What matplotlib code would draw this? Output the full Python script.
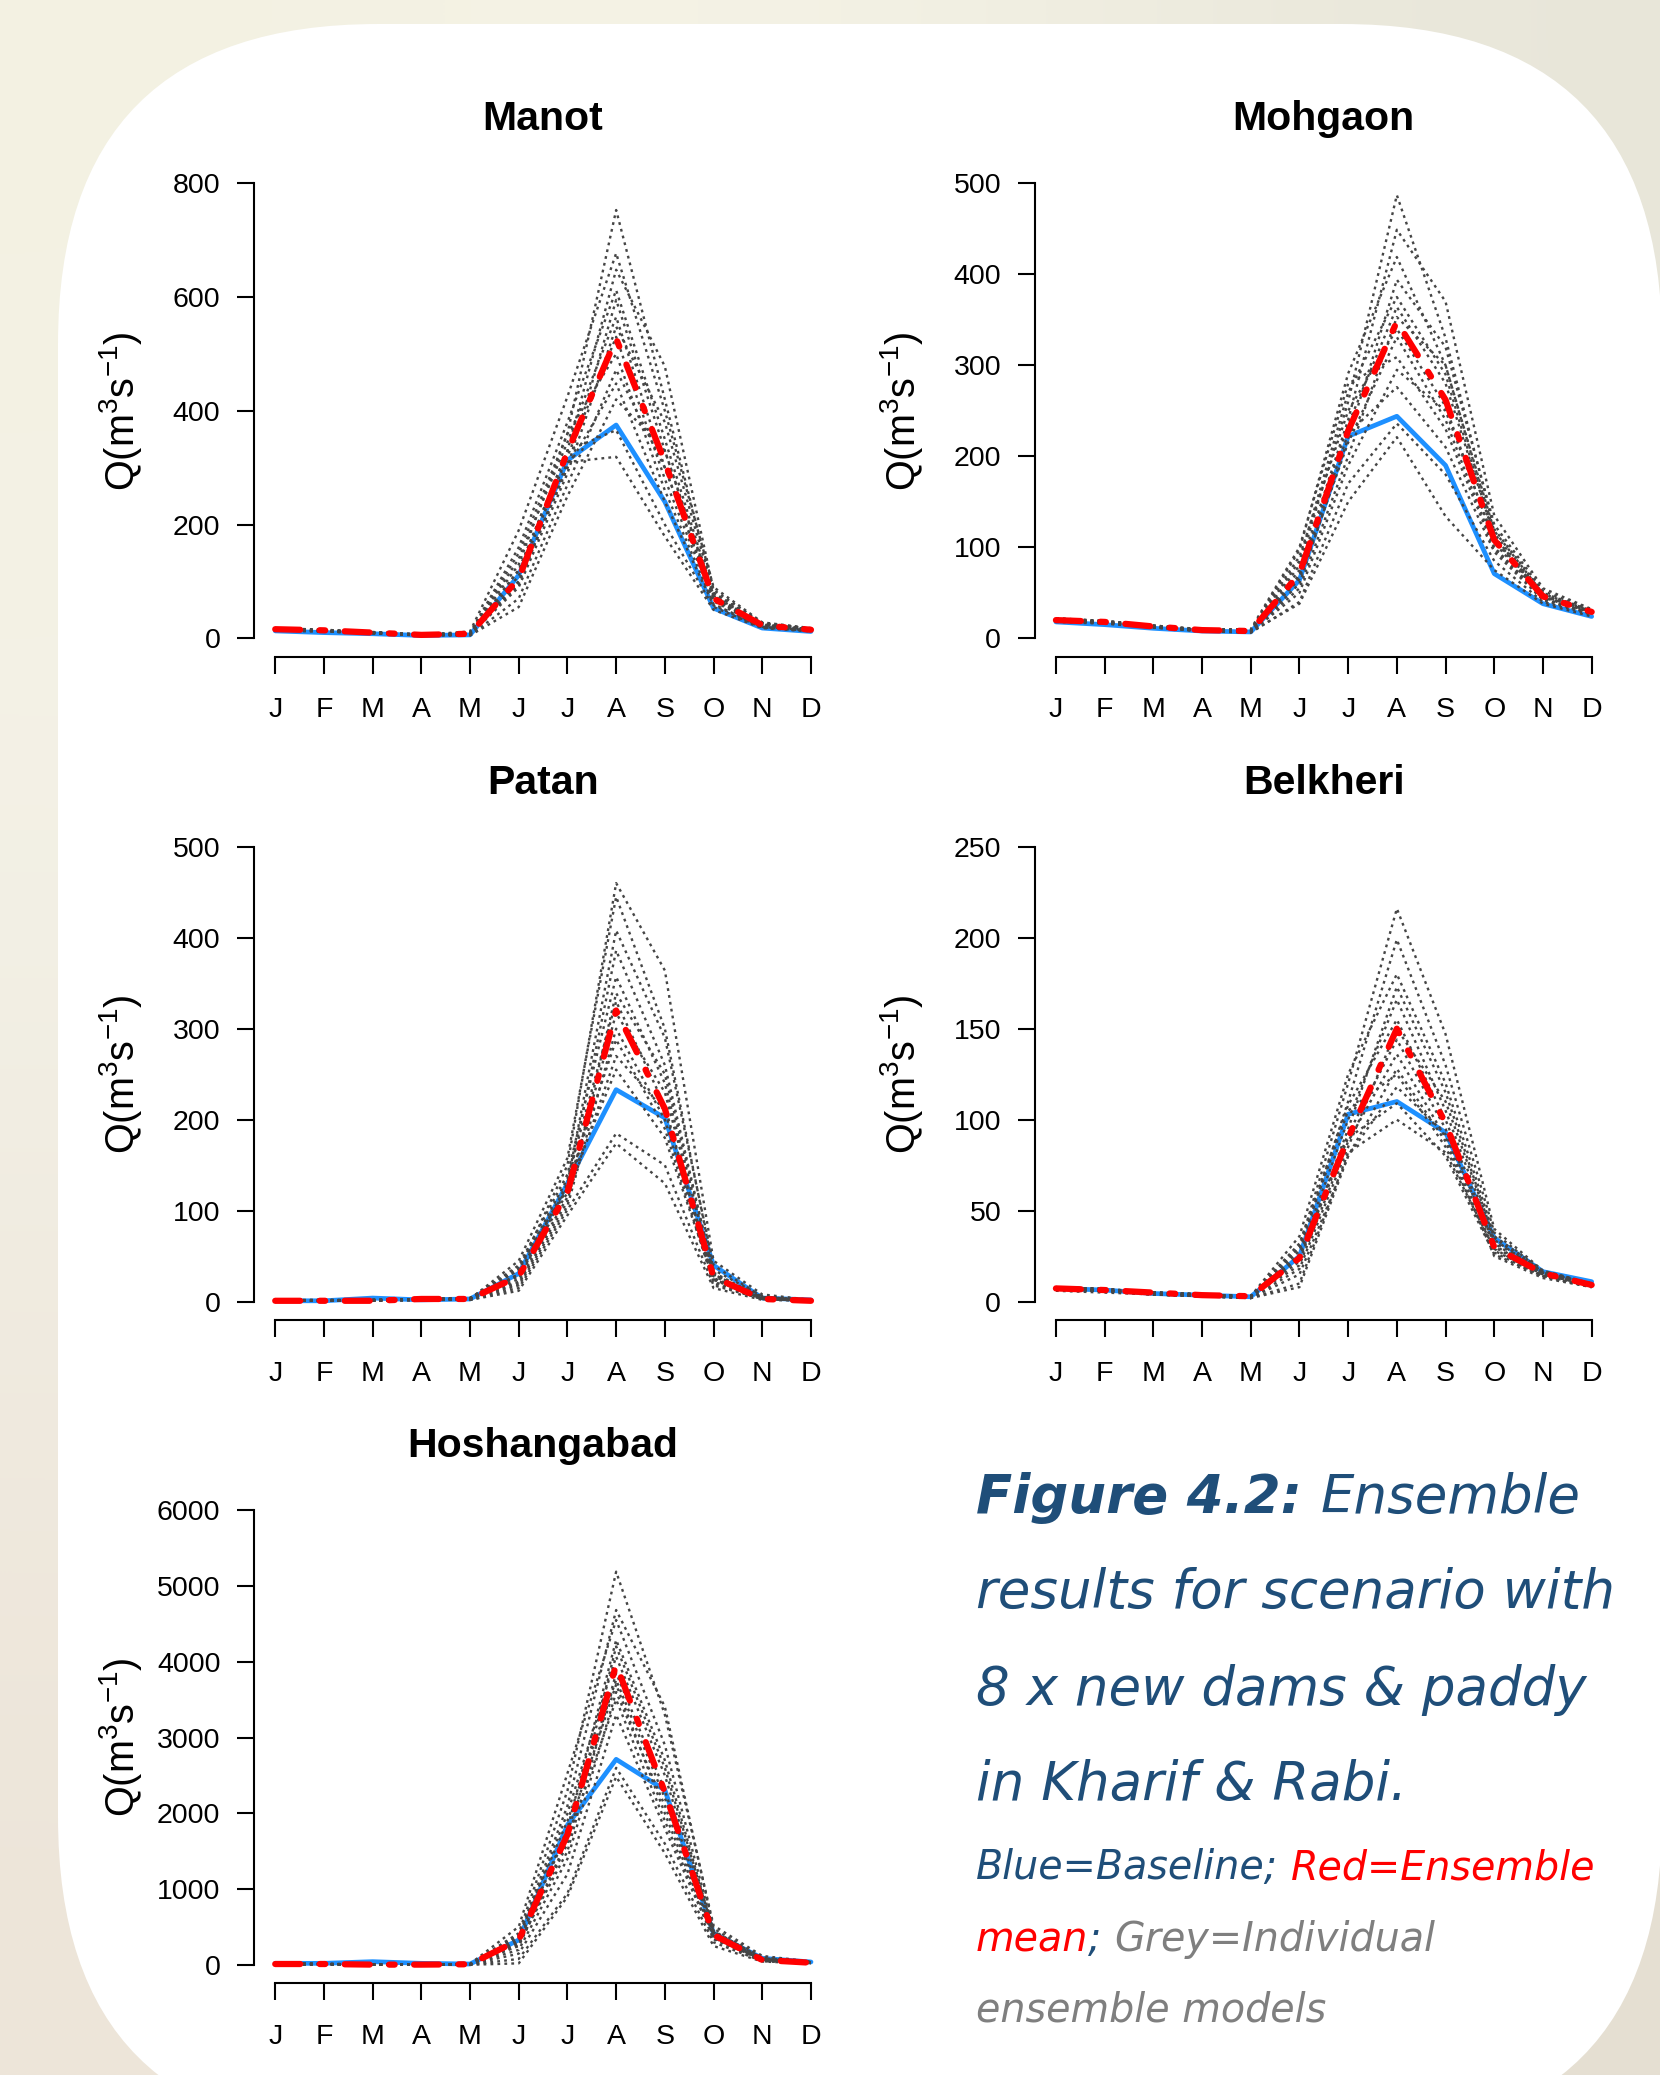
import matplotlib
matplotlib.use("Agg")
import numpy as np
import matplotlib.pyplot as plt
from matplotlib.patches import FancyBboxPatch
from matplotlib.colors import to_rgb

plt.rcParams.update({
    "font.family": ["Liberation Sans", "DejaVu Sans"],
    "mathtext.fontset": "custom",
    "mathtext.rm": "Liberation Sans",
    "mathtext.it": "Liberation Sans:italic",
    "mathtext.bf": "Liberation Sans:bold",
    "mathtext.default": "rm",
    "lines.scale_dashes": False,
    "axes.linewidth": 1.5,
})

W, H = 1660, 2075

MONTHS = ["J", "F", "M", "A", "M", "J", "J", "A", "S", "O", "N", "D"]
STATIONS = ["Manot", "Mohgaon", "Patan", "Belkheri", "Hoshangabad"]
Y_MAX = [800, 500, 500, 250, 6000]
Y_STEP = [200, 100, 100, 50, 1000]

# --- Manot -------------------------------------------------------------
MANOT_BASE = [13, 10, 8, 5, 6, 111, 313, 375, 240, 53, 18, 12]
MANOT_MEAN = [16, 14, 10, 6, 8, 105, 328, 527, 310, 70, 23, 15]
MANOT_MODELS = [
    [18, 15, 11, 7, 10, 130, 360, 753, 420, 80, 25, 17],
    [15, 13, 10, 6, 12, 190, 425, 677, 400, 90, 28, 18],
    [17, 14, 10, 6, 8, 120, 330, 648, 478, 85, 27, 17],
    [16, 13, 9, 6, 9, 160, 380, 612, 350, 75, 24, 16],
    [14, 12, 9, 5, 7, 100, 300, 595, 330, 70, 22, 15],
    [16, 14, 10, 6, 8, 140, 345, 565, 300, 68, 23, 15],
    [17, 15, 11, 7, 6, 90, 290, 548, 380, 80, 25, 16],
    [15, 13, 9, 6, 8, 110, 320, 530, 280, 65, 21, 14],
    [16, 14, 10, 6, 9, 150, 360, 500, 260, 60, 20, 14],
    [14, 12, 9, 5, 5, 70, 270, 472, 300, 72, 22, 15],
    [15, 13, 9, 6, 7, 100, 300, 448, 240, 58, 19, 13],
    [16, 14, 10, 6, 5, 55, 250, 420, 330, 75, 24, 16],
    [15, 13, 10, 6, 8, 120, 330, 366, 200, 55, 19, 13],
    [14, 12, 9, 5, 7, 95, 310, 319, 179, 50, 18, 12],
]

# --- Mohgaon -----------------------------------------------------------
MOHGAON_BASE = [18, 15, 11, 8, 7, 64, 222, 244, 190, 71, 38, 24]
MOHGAON_MEAN = [20, 18, 13, 9, 8, 71, 228, 348, 262, 108, 46, 29]
MOHGAON_MODELS = [
    [21, 19, 14, 9, 9, 80, 260, 487, 330, 120, 50, 30],
    [20, 18, 13, 9, 8, 75, 240, 449, 370, 135, 55, 32],
    [22, 19, 14, 10, 9, 97, 291, 419, 300, 115, 48, 30],
    [19, 17, 12, 8, 7, 60, 220, 394, 320, 125, 52, 31],
    [21, 18, 13, 9, 8, 85, 270, 375, 290, 110, 47, 29],
    [20, 18, 13, 9, 8, 70, 235, 364, 280, 112, 46, 29],
    [19, 17, 12, 8, 7, 55, 200, 353, 300, 118, 49, 30],
    [21, 18, 13, 9, 9, 90, 250, 340, 255, 105, 45, 28],
    [20, 17, 13, 9, 8, 65, 215, 331, 240, 100, 44, 28],
    [22, 19, 14, 10, 10, 100, 280, 309, 230, 98, 43, 27],
    [19, 17, 12, 8, 7, 50, 190, 295, 250, 108, 46, 29],
    [20, 18, 13, 9, 8, 68, 225, 276, 210, 95, 42, 27],
    [18, 16, 12, 8, 6, 40, 170, 236, 180, 85, 40, 26],
    [19, 17, 12, 8, 7, 38, 150, 221, 134, 75, 38, 24],
]

# --- Patan -------------------------------------------------------------
PATAN_BASE = [1, 1, 4, 2, 3, 31, 130, 233, 202, 40, 4, 2]
PATAN_MEAN = [1, 1, 1, 3, 3, 28, 120, 320, 212, 27, 3, 1]
PATAN_MODELS = [
    [1, 2, 2, 3, 4, 35, 150, 460, 364, 45, 8, 2],
    [2, 1, 1, 3, 3, 45, 158, 445, 300, 35, 6, 2],
    [1, 1, 2, 2, 4, 30, 130, 408, 290, 40, 5, 1],
    [1, 2, 1, 3, 2, 25, 125, 386, 260, 30, 4, 1],
    [2, 1, 1, 2, 3, 40, 140, 357, 240, 28, 5, 2],
    [1, 1, 2, 3, 3, 20, 110, 339, 250, 32, 4, 1],
    [1, 1, 1, 3, 4, 35, 135, 330, 215, 25, 3, 1],
    [2, 2, 1, 2, 3, 28, 120, 317, 230, 30, 5, 2],
    [1, 1, 2, 3, 2, 18, 105, 300, 200, 22, 3, 1],
    [1, 1, 1, 2, 3, 30, 128, 288, 190, 20, 3, 1],
    [2, 1, 1, 3, 3, 22, 115, 270, 210, 26, 4, 1],
    [1, 1, 2, 2, 4, 38, 125, 255, 180, 24, 3, 1],
    [1, 1, 1, 3, 2, 15, 101, 185, 150, 18, 3, 1],
    [1, 1, 1, 2, 2, 12, 95, 174, 130, 15, 2, 1],
]

# --- Belkheri ----------------------------------------------------------
BELKHERI_BASE = [7.3, 6.4, 4.5, 3.6, 2.7, 25, 103, 110, 93, 35, 16.5, 11]
BELKHERI_MEAN = [7.3, 6.4, 5, 3.6, 3, 24, 90, 150, 98, 30, 15.6, 9.2]
BELKHERI_MODELS = [
    [8, 7, 5, 4, 3, 30, 120, 216, 147, 40, 17, 10],
    [7, 6, 5, 4, 3, 28, 110, 199, 130, 38, 16, 10],
    [8, 7, 5, 4, 3, 36, 125, 180, 120, 36, 17, 10],
    [7, 6, 4, 3, 3, 22, 95, 173, 115, 34, 16, 9],
    [7, 6, 5, 4, 3, 26, 100, 166, 105, 33, 16, 9],
    [8, 7, 5, 4, 3, 32, 108, 155, 100, 31, 15, 9],
    [7, 6, 4, 3, 2, 18, 85, 150, 110, 35, 16, 10],
    [7, 6, 5, 4, 3, 25, 92, 144, 95, 30, 15, 9],
    [7, 6, 4, 3, 3, 20, 88, 136, 90, 28, 15, 9],
    [8, 7, 5, 4, 3, 30, 105, 125, 85, 27, 14, 9],
    [7, 6, 4, 3, 2, 15, 80, 118, 92, 32, 15, 9],
    [7, 6, 5, 3, 3, 24, 90, 109, 80, 26, 14, 8],
    [7, 6, 4, 3, 2, 10, 82, 100, 82, 29, 14, 8],
    [6, 5, 4, 3, 2, 8, 80, 128, 88, 25, 13, 8],
]

# --- Hoshangabad -------------------------------------------------------
HOSH_BASE = [22, 22, 44, 22, 13, 330, 1846, 2712, 2308, 418, 88, 40]
HOSH_MEAN = [13, 13, 5, 5, 10, 330, 1720, 3960, 2280, 396, 66, 30]
HOSH_MODELS = [
    [15, 14, 8, 6, 12, 420, 2300, 5187, 3300, 520, 120, 45],
    [14, 13, 6, 5, 10, 380, 2100, 4681, 3406, 480, 100, 40],
    [16, 15, 8, 6, 15, 505, 2528, 4549, 2900, 450, 90, 38],
    [13, 12, 5, 4, 8, 300, 1800, 4286, 2700, 430, 80, 35],
    [14, 13, 6, 5, 10, 350, 2000, 4066, 2500, 410, 75, 32],
    [12, 12, 5, 4, 7, 250, 1600, 4200, 2600, 440, 85, 34],
    [15, 14, 7, 6, 12, 400, 1900, 3758, 2200, 380, 70, 30],
    [13, 12, 5, 4, 9, 280, 1500, 3850, 2300, 400, 65, 30],
    [14, 13, 6, 5, 10, 320, 1750, 3700, 2000, 360, 60, 28],
    [12, 11, 4, 4, 6, 200, 1400, 3600, 2100, 390, 68, 29],
    [13, 12, 5, 4, 8, 260, 1650, 3500, 1900, 340, 55, 26],
    [12, 11, 4, 3, 5, 150, 1200, 3300, 1800, 350, 58, 27],
    [11, 10, 3, 3, 4, 80, 945, 2600, 1600, 300, 50, 25],
    [11, 10, 3, 3, 3, 22, 900, 2483, 1473, 250, 45, 22],
]

BASELINES = [MANOT_BASE, MOHGAON_BASE, PATAN_BASE, BELKHERI_BASE, HOSH_BASE]
MEANS = [MANOT_MEAN, MOHGAON_MEAN, PATAN_MEAN, BELKHERI_MEAN, HOSH_MEAN]
MODELS = [MANOT_MODELS, MOHGAON_MODELS, PATAN_MODELS, BELKHERI_MODELS, HOSH_MODELS]

BLUE = "#1E90FF"
RED = "#FF0000"
GREY = "#454545"
CAP_BLUE = "#1F4E79"
CAP_GREY = "#7F7F7F"

# panel geometry in figure pixels
COL_X0 = [253.8, 1034.5]
PLOT_W = 578.6
ROW_TOP_TICK = [183.3, 846.7, 1510.0]
DATA_H = 455.0


def px_axes(fig, x0, y0, w, h):
    return fig.add_axes([x0 / W, 1 - (y0 + h) / H, w / W, h / H])


fig = plt.figure(figsize=(W / 100, H / 100), dpi=100)

# background: soft blurred photo look + white rounded card
bg = fig.add_axes([0, 0, 1, 1], zorder=-10)
bg_grid = np.array([
    [to_rgb("#F3F1E2"), to_rgb("#F6F4E7"), to_rgb("#E8E6D9")],
    [to_rgb("#F4F2E7"), to_rgb("#F4F2E8"), to_rgb("#EAE7DC")],
    [to_rgb("#F0EBE0"), to_rgb("#F0ECE2"), to_rgb("#E9E4D8")],
    [to_rgb("#EDE5D9"), to_rgb("#EDE6DA"), to_rgb("#E5DFD2")],
])
bg.imshow(bg_grid, extent=(0, W, H, 0), interpolation="bicubic", aspect="auto")
bg.add_patch(FancyBboxPatch((58, 24), 1604, 2113,
                            boxstyle="round,pad=0,rounding_size=320",
                            facecolor="white", edgecolor="none"))
bg.set_xlim(0, W)
bg.set_ylim(H, 0)
bg.axis("off")

x = np.arange(1, 13)
pad_frac = 0.04

for i, name in enumerate(STATIONS):
    row, col = divmod(i, 2)
    ymax = Y_MAX[i]
    top = ROW_TOP_TICK[row] - pad_frac * DATA_H
    ax = px_axes(fig, COL_X0[col], top, PLOT_W, DATA_H * (1 + 2 * pad_frac))

    ax.plot(x, BASELINES[i], color=BLUE, lw=3.4, solid_capstyle="round", zorder=2)
    for model in MODELS[i]:
        ax.plot(x, model, color=GREY, lw=1.7, linestyle=(0, (2.0, 3.0)), zorder=3)
    ax.plot(x, MEANS[i], color=RED, lw=4.5, linestyle=(0, (18, 14, 4, 14)),
            dash_capstyle="round", zorder=4)

    ax.set_xlim(1 - 11 * pad_frac, 12 + 11 * pad_frac)
    ax.set_ylim(-pad_frac * ymax, ymax * (1 + pad_frac))
    ax.set_xticks(x)
    ax.set_xticklabels(MONTHS)
    ax.set_yticks(np.arange(0, ymax + 1, Y_STEP[i]))
    ax.spines["top"].set_visible(False)
    ax.spines["right"].set_visible(False)
    ax.spines["left"].set_bounds(0, ymax)
    ax.spines["bottom"].set_bounds(1, 12)
    ax.tick_params(axis="both", direction="out", length=12.5, width=1.5,
                   labelsize=20.5, colors="black")
    ax.tick_params(axis="y", pad=11.5)
    ax.tick_params(axis="x", pad=17)
    ax.patch.set_alpha(0)
    ax.set_title(name, fontsize=29.5, fontweight="bold", pad=25)

    lab_x = 121 + (COL_X0[col] - COL_X0[0])
    lab_y = top + DATA_H * (1 + 2 * pad_frac) / 2
    fig.text(lab_x / W, 1 - lab_y / H, r"Q(m$^{3}$s$^{-1}$)", rotation=90,
             ha="center", va="center", fontsize=28.5)

# caption
renderer = fig.canvas.get_renderer()


def text_width(s, **kw):
    t = fig.text(0, 0, s, **kw)
    w = t.get_window_extent(renderer).width
    t.remove()
    return w


def run_line(x_px, y_px, parts, size):
    xpos = x_px
    for s, color, weight, space_after in parts:
        kw = dict(fontsize=size, fontweight=weight, fontstyle="italic",
                  family="DejaVu Sans")
        fig.text(xpos / W, 1 - y_px / H, s, color=color, ha="left",
                 va="baseline", **kw)
        xpos += text_width(s, **kw)
        if space_after:
            xpos += text_width("n n", **kw) - text_width("nn", **kw)


CAP_X = 976
BIG = 38.2
SMALL = 28.5
run_line(CAP_X, 1513, [("Figure 4.2:", CAP_BLUE, "bold", True),
                       ("Ensemble", CAP_BLUE, "normal", False)], BIG)
run_line(CAP_X, 1608, [("results for scenario with", CAP_BLUE, "normal", False)], BIG)
run_line(CAP_X, 1705, [("8 x new dams & paddy", CAP_BLUE, "normal", False)], BIG)
run_line(CAP_X, 1800, [("in Kharif & Rabi.", CAP_BLUE, "normal", False)], BIG)
run_line(CAP_X, 1879, [("Blue=Baseline;", CAP_BLUE, "normal", True),
                       ("Red=Ensemble", RED, "normal", False)], SMALL)
run_line(CAP_X, 1951, [("mean", RED, "normal", False),
                       (";", CAP_BLUE, "normal", True),
                       ("Grey=Individual", CAP_GREY, "normal", False)], SMALL)
run_line(CAP_X, 2022, [("ensemble models", CAP_GREY, "normal", False)], SMALL)

fig.savefig("out.png", dpi=100)
